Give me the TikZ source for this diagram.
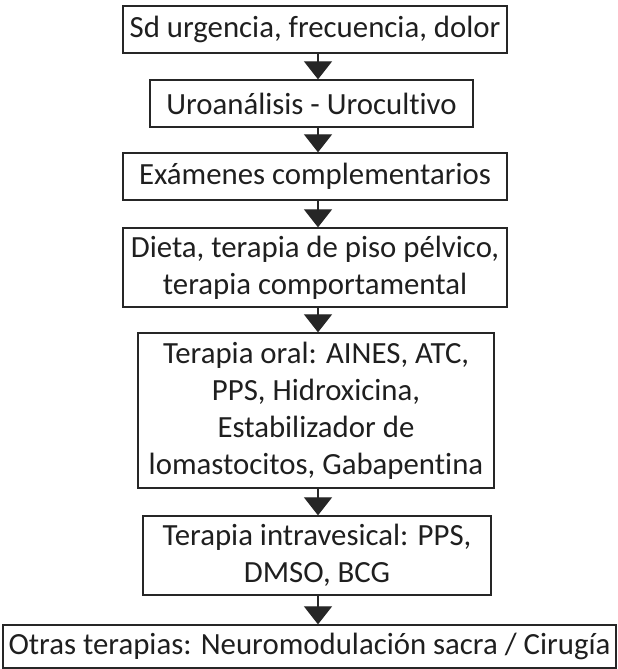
\documentclass[tikz,border=0pt]{standalone}
\usepackage{fontspec}
\setmainfont{Carlito}[Ligatures=NoCommon]
\usetikzlibrary{arrows.meta}

\begin{document}
\begin{tikzpicture}[x=1pt,y=-1pt,
    paso/.style={draw=black!85,line width=1.3pt,inner sep=0pt,align=center,text=black!88,font=\fontsize{30.8}{37}\selectfont},
    flecha/.style={line width=1.2pt,draw=black!85,fill=black!85,-{Triangle[width=28pt,length=18pt]}}]
  \useasboundingbox (0,0) rectangle (618,669);
  \coordinate (ax) at (318,0);
  \node[paso,minimum width=384pt,minimum height=47pt](b1)at(315,29.5){Sd urgencia, frecuencia, dolor};
  \node[paso,minimum width=323pt,minimum height=47pt](b2)at(311.5,103.5){Uroanálisis - Urocultivo};
  \node[paso,minimum width=384pt,minimum height=47pt](b3)at(315,176.5){Exámenes complementarios};
  \node[paso,minimum width=384pt,minimum height=79pt](b4)at(315,267.5){Dieta, terapia de piso pélvico,\\terapia comportamental};
  \node[paso,minimum width=356pt,minimum height=155pt](b5)at(316,410.5){Terapia oral: AINES, ATC,\\PPS, Hidroxicina,\\Estabilizador de\\lomastocitos, Gabapentina};
  \node[paso,minimum width=348pt,minimum height=79pt](b6)at(317,555.5){Terapia intravesical: PPS,\\DMSO, BCG};
  \node[paso,minimum width=613pt,minimum height=43pt](b7)at(309.5,646.5){Otras terapias: Neuromodulación sacra / Cirugía};
  \draw[flecha](b1.south -| ax)--(b2.north -| ax);
  \draw[flecha](b2.south -| ax)--(b3.north -| ax);
  \draw[flecha](b3.south -| ax)--(b4.north -| ax);
  \draw[flecha](b4.south -| ax)--(b5.north -| ax);
  \draw[flecha](b5.south -| ax)--(b6.north -| ax);
  \draw[flecha](b6.south -| ax)--(b7.north -| ax);
\end{tikzpicture}
\end{document}
